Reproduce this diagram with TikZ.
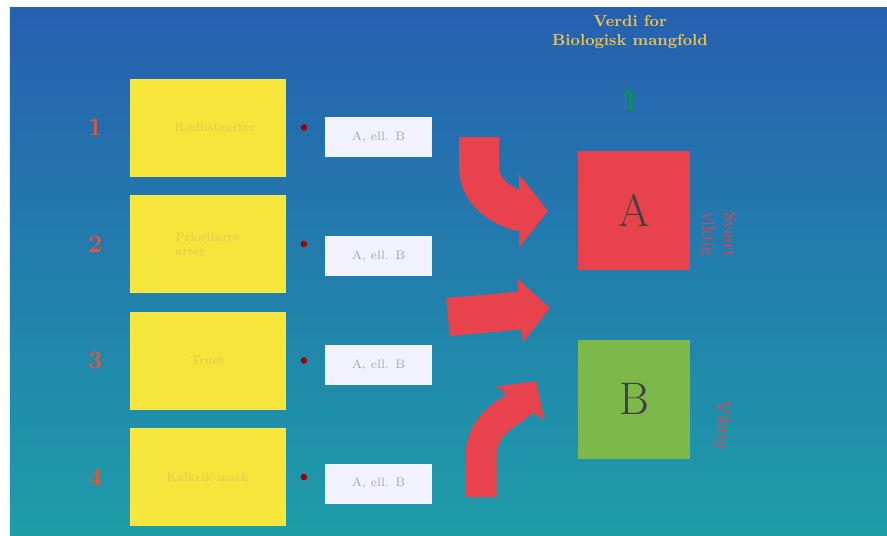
\documentclass[tikz,border=0pt]{standalone}
\usepackage{xcolor}
\usepackage{tikz}
\usetikzlibrary{arrows.meta, positioning}
\definecolor{bgtop}{HTML}{2660B0}
\definecolor{bgmid}{HTML}{228CD2}
\definecolor{bgbot}{HTML}{1E9DA8}
\definecolor{boxyellow}{HTML}{F6E63C}
\definecolor{faintyellow}{HTML}{D9C95A}
\definecolor{valred}{HTML}{E8434C}
\definecolor{valgreen}{HTML}{7DB84A}
\definecolor{numred}{HTML}{E0563E}
\definecolor{titlegold}{HTML}{F4C24E}
\tikzset{
    critbox/.style={draw=boxyellow!90!white, fill=boxyellow, minimum width=3.1cm, minimum height=1.94cm, font=\scriptsize, text=faintyellow, align=left},
    valbox/.style={fill=white!95!blue, minimum width=2.14cm, minimum height=0.8cm, font=\scriptsize, text=gray!70},
    num/.style={font=\Large\bfseries, text=numred},
    dot/.style={circle, fill=red!60!black, inner sep=0pt, minimum size=0.13cm},
    bigsquare/.style={minimum width=2.24cm, minimum height=2.38cm, font=\fontsize{26}{28}\selectfont, text=black!75},
    sidelabel/.style={font=\normalsize, text=valred, rotate=-90, align=center, inner sep=1pt},
    redarrow/.style={draw=valred, line cap=butt}
}

\begin{document}
\begin{tikzpicture}[node distance=2.33cm]
    % background
    \useasboundingbox (0,0) rectangle (17.74,-10.70);
    \fill[white] (0,0) rectangle (17.74,-10.70);
    \shade[top color=bgtop, middle color=bgmid, bottom color=bgbot] (0.2,-0.14) rectangle (17.74,-10.70);

    % criteria boxes
    \node (y1) [critbox] at (4.15,-2.55) {\phantom{xx}Rødlistearter};
    \node (y2) [critbox, below of=y1] {Prioriterte\\arter};
    \node (y3) [critbox, below of=y2] {Truet};
    \node (y4) [critbox, below of=y3] {Kalkrik mark};

    \node (n1) [num, left=0.42cm of y1] {1};
    \node (n2) [num, left=0.42cm of y2] {2};
    \node (n3) [num, left=0.42cm of y3] {3};
    \node (n4) [num, left=0.42cm of y4] {4};

    \node (d1) [dot, right=0.3cm of y1] {};
    \node (d2) [dot, right=0.3cm of y2] {};
    \node (d3) [dot, right=0.3cm of y3] {};
    \node (d4) [dot, right=0.3cm of y4] {};

    % value boxes
    \node (v1) [valbox] at (7.57,-2.74) {A, ell. B};
    \node (v2) [valbox] at (7.57,-5.12) {A, ell. B};
    \node (v3) [valbox] at (7.57,-7.30) {A, ell. B};
    \node (v4) [valbox] at (7.57,-9.67) {A, ell. B};

    % title and values
    \node (title) [font=\small\bfseries, text=titlegold, align=center, inner sep=0pt] at (12.6,-0.64) {Verdi for\\Biologisk mangfold};
    \node (up) [font=\Large, text=green!70!black] at (12.56,-2.0) {$\Uparrow$};
    \node (A) [bigsquare, fill=valred] at (12.68,-4.2) {A};
    \node (B) [bigsquare, fill=valgreen] at (12.68,-7.98) {B};
    \node (la) [sidelabel, right=0.55cm of A] {Svært\\viktig};
    \node (lb) [sidelabel, right=0.62cm of B] {Viktig};

    % block arrows
    \coordinate (a1s) at (9.58,-2.74);
    \coordinate (a1t) at (10.96,-4.22);
    \coordinate (a2s) at (8.96,-6.34);
    \coordinate (a2t) at (11.0,-6.16);
    \coordinate (a3s) at (9.62,-9.94);
    \coordinate (a3t) at (10.72,-7.62);
    \draw [redarrow, line width=0.8cm, -{Triangle[width=1.44cm, length=0.58cm]}] (a1s) -- ++(0,-0.6) to[out=-90, in=180] (a1t);
    \draw [redarrow, line width=0.76cm, -{Triangle[width=1.26cm, length=0.6cm]}] (a2s) -- (a2t);
    \draw [redarrow, line width=0.62cm, -{Triangle[width=1.15cm, length=0.55cm]}] (a3s) -- ++(0,0.8) to[out=90, in=235] (a3t);
\end{tikzpicture}
\end{document}
